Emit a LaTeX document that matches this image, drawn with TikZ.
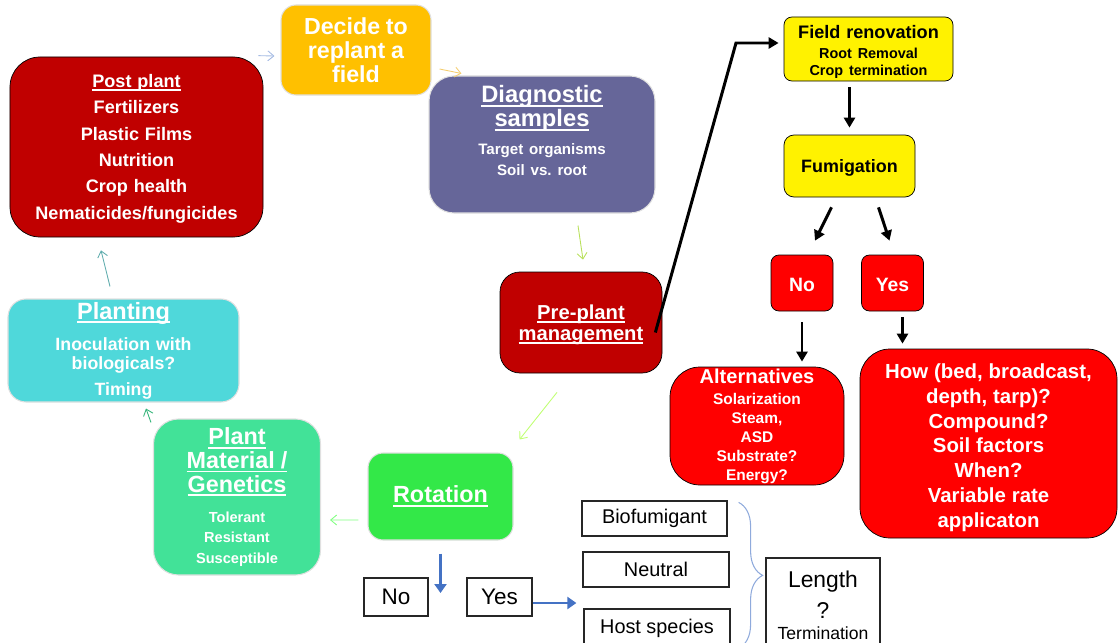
\documentclass[tikz,border=0pt]{standalone}
\usepackage{fontspec}
\setmainfont{Liberation Sans}
\usetikzlibrary{arrows.meta,calc,decorations.pathreplacing}
\definecolor{darkred}{HTML}{C00000}
\definecolor{gold}{HTML}{FFC000}
\definecolor{slate}{HTML}{666699}
\definecolor{brightred}{HTML}{FF0000}
\definecolor{aqua}{HTML}{4FD8DA}
\definecolor{mint}{HTML}{42E298}
\definecolor{lime}{HTML}{33E848}
\definecolor{arrblue}{HTML}{4472C4}
\definecolor{bracecol}{HTML}{8FAADC}
\newcommand\fsz[2]{\fontsize{#1}{#2}\selectfont}
\newcommand\ulin[1]{\leavevmode\setbox0=\hbox{#1}\rlap{\rule[-0.17em]{\wd0}{0.075em}}\box0}

\begin{document}
\begin{tikzpicture}[x=0.2mm,y=-0.2mm,
  box/.style={rounded corners=#1, align=center, inner sep=0pt, font=\bfseries, text=white},
  box/.default=3mm,
  smart/.style={draw=black!12, line width=0.6pt},
  plainbox/.style={draw=black!85, line width=0.7pt, fill=white, inner sep=0pt, align=center},
  cyc/.style={draw=#1, line width=0.5pt, -{Straight Barb[length=1.2mm,width=2mm]}},
  blk/.style={line width=1.7pt, -{Triangle[length=2mm,width=2.2mm]}},
  blu/.style={line width=1.7pt, arrblue, -{Triangle[length=1.8mm,width=2.4mm]}}]
\useasboundingbox (0,0) rectangle (1118,643);

% cycle
\node[box=6mm, fill=darkred, draw=black, minimum width=50.6mm, minimum height=36mm, text width=48mm] (post) at (136.5,147)
  {\fsz{10.3}{15}\ulin{Post plant}\rule{0pt}{9.4pt}\\Fertilizers\\Plastic Films\\Nutrition\\Crop health\\Nematicides/fungicides\par};
\node[box=3mm, smart, fill=gold, minimum width=30mm, minimum height=18mm, text width=28mm] (decide) at (356,50)
  {\fsz{13.2}{13.7}Decide to\\replant a\\field\par};
\node[box=5mm, smart, fill=slate, minimum width=45.2mm, minimum height=27.4mm, text width=43mm] (diag) at (542,144.5)
  {{\fsz{13.5}{13.7}\ulin{Diagnostic}\\\ulin{samples}\par}\vspace{3.4pt}{\fsz{8.6}{12}Target organisms\\Soil vs.\ root\par}\vspace*{5.6mm}};
\node[box=4mm, fill=darkred, draw=black, minimum width=32.4mm, minimum height=20.2mm, text width=30mm] (pre) at (581,322.5)
  {\fsz{11.5}{12}\ulin{Pre-plant}\rule{0pt}{10.6pt}\\\ulin{management}\par};
\node[box=3mm, smart, fill=lime, minimum width=29mm, minimum height=17.4mm, text width=27mm] (rotation) at (440.5,496.5)
  {\fsz{13.3}{14}\ulin{Rotation}\par};
\node[box=5mm, smart, fill=mint, minimum width=33.4mm, minimum height=31.2mm, text width=32mm] (plantmat) at (237,497)
  {{\fsz{13.3}{13.5}\ulin{Plant}\\\ulin{Material /}\\\ulin{Genetics}\par}\vspace{5.3pt}{\fsz{8.3}{11.7}Tolerant\\Resistant\\Susceptible\par}};
\node[box=3.6mm, smart, fill=aqua, minimum width=46.2mm, minimum height=20.6mm, text width=44mm] (planting) at (123.5,350.5)
  {{\fsz{13.4}{14}\ulin{Planting}\par}\vspace{6.8pt}{\fsz{10.1}{10.8}Inoculation with\\biologicals?\\[4pt]Timing\par}};

% fumigation branch
\node[box=1.6mm, fill=yellow, draw=black, text=black, minimum width=33.8mm, minimum height=12.8mm, text width=32mm] (fieldren) at (868.5,49)
  {{\fsz{10.3}{11}Field renovation\rule{0pt}{11pt}\par}\vspace{1.6pt}{\fsz{8.2}{9.8}Root Removal\\Crop termination\par}};
\node[box=2mm, fill=yellow, draw=black, text=black, minimum width=26.2mm, minimum height=12.4mm, text width=25mm] (fumig) at (849.5,166)
  {\fsz{10.2}{12}Fumigation\rule{0pt}{10pt}\par};
\node[box=1.6mm, fill=brightred, draw=black, minimum width=12.4mm, minimum height=11.2mm, text width=12mm] (no) at (802,283) {\fsz{11}{12}No\rule{0pt}{10pt}\par};
\node[box=1.6mm, fill=brightred, draw=black, minimum width=12.4mm, minimum height=11.2mm, text width=12mm] (yes) at (892.5,283) {\fsz{11}{12}Yes\rule{0pt}{10pt}\par};
\node[box=6mm, fill=brightred, draw=black, minimum width=34.8mm, minimum height=23.6mm, text width=33mm] (alt) at (757,426)
  {{\fsz{11.4}{12}Alternatives\par}\vspace{1.8pt}{\fsz{8.8}{10.7}Solarization\\Steam,\\ASD\\Substrate?\\Energy?\par}};
\node[box=6mm, fill=brightred, draw=black, minimum width=51.4mm, minimum height=37.8mm, text width=50mm] (how) at (988.5,443.5)
  {\fsz{11.6}{14.2}How (bed, broadcast,\rule{0pt}{13.2pt}\\depth, tarp)?\\Compound?\\Soil factors\\When?\\Variable rate\\applicaton\par};

% rotation choices
\node[plainbox, minimum width=12.8mm, minimum height=7.6mm, font=\fsz{12.8}{14}] (no2) at (396,597) {No};
\node[plainbox, minimum width=13mm, minimum height=7.6mm, font=\fsz{12.8}{14}] (yes2) at (499.5,597) {Yes};
\node[plainbox, minimum width=29mm, minimum height=7mm, font=\fsz{11.3}{13}] (biofum) at (654.5,518.5) {Biofumigant};
\node[plainbox, minimum width=29.2mm, minimum height=7mm, font=\fsz{11.3}{13}] (neutral) at (656,569.5) {Neutral};
\node[plainbox, minimum width=29.2mm, minimum height=7.6mm, font=\fsz{11.3}{13}] (host) at (657,628) {Host species};
\node[plainbox, minimum width=22.8mm, minimum height=18.8mm, text width=22mm] (length) at (823,605)
  {{\fsz{13}{17.6}Length\\?\par}{\fsz{10}{12}Termination\par}};

% thin cycle arrows
\draw[cyc=bracecol!80] ($(post.north east)+(-5,-1)$) -- ($(decide.west)+(-6,6)$);
\draw[cyc=gold!70!brown!60] ($(decide.east)+(8,19)$) -- ($(diag.north west)+(33,-2)$);
\draw[cyc=yellow!60!green!70] ($(diag.south)+(36,12)$) -- ($(pre.north)+(2,-12)$);
\draw[cyc=green!45!yellow!55] ($(pre.south)+(-24,19)$) -- ($(rotation.north east)+(6,-13)$);
\draw[cyc=green!50!white] ($(rotation.west)+(-9,23.5)$) -- ($(plantmat.east)+(9,23)$);
\draw[cyc=mint!80!black] ($(plantmat.north west)+(-2,4)$) -- ($(planting.south)+(22.5,6)$);
\draw[cyc=aqua!70!black!80] ($(planting.north)+(-13.5,-12)$) -- ($(post.south)+(-35.5,13)$);

% black arrows
\coordinate (turn) at (736,43);
\draw[blk, shorten >=1mm] ($(pre.east)+(-7,10)$) -- (turn) -- (turn -| fieldren.west);
\draw[blk, shorten <=1.2mm, shorten >=1.4mm] (fumig.north |- fieldren.south) -- (fumig.north);
\draw[blk] ($(fumig.south)+(-18,10)$) -- ($(no.north)+(13,-14)$);
\draw[blk] ($(fumig.south)+(29,10)$) -- ($(yes.north)+(-3,-14)$);
\draw[blk, shorten <=2.2mm, shorten >=1mm] (no.south) -- (no.south |- alt.north);
\draw[blk] ($(yes.south)+(10,6)$) -- ($(yes.south |- how.north)+(10,-5)$);

% blue arrows and brace
\draw[blu, shorten <=2.6mm, shorten >=0.8mm] (rotation.south) -- (rotation.south |- no2.center);
\draw[blu] ($(yes2.east)+(0,6)$) -- ($(yes2.east -| biofum.west)+(-5,6)$);
\draw[bracecol, line width=0.6pt, decorate, decoration={brace, amplitude=4.8mm}] ($(biofum.north east)+(11,2)$) -- ++(0,146);
\end{tikzpicture}
\end{document}
